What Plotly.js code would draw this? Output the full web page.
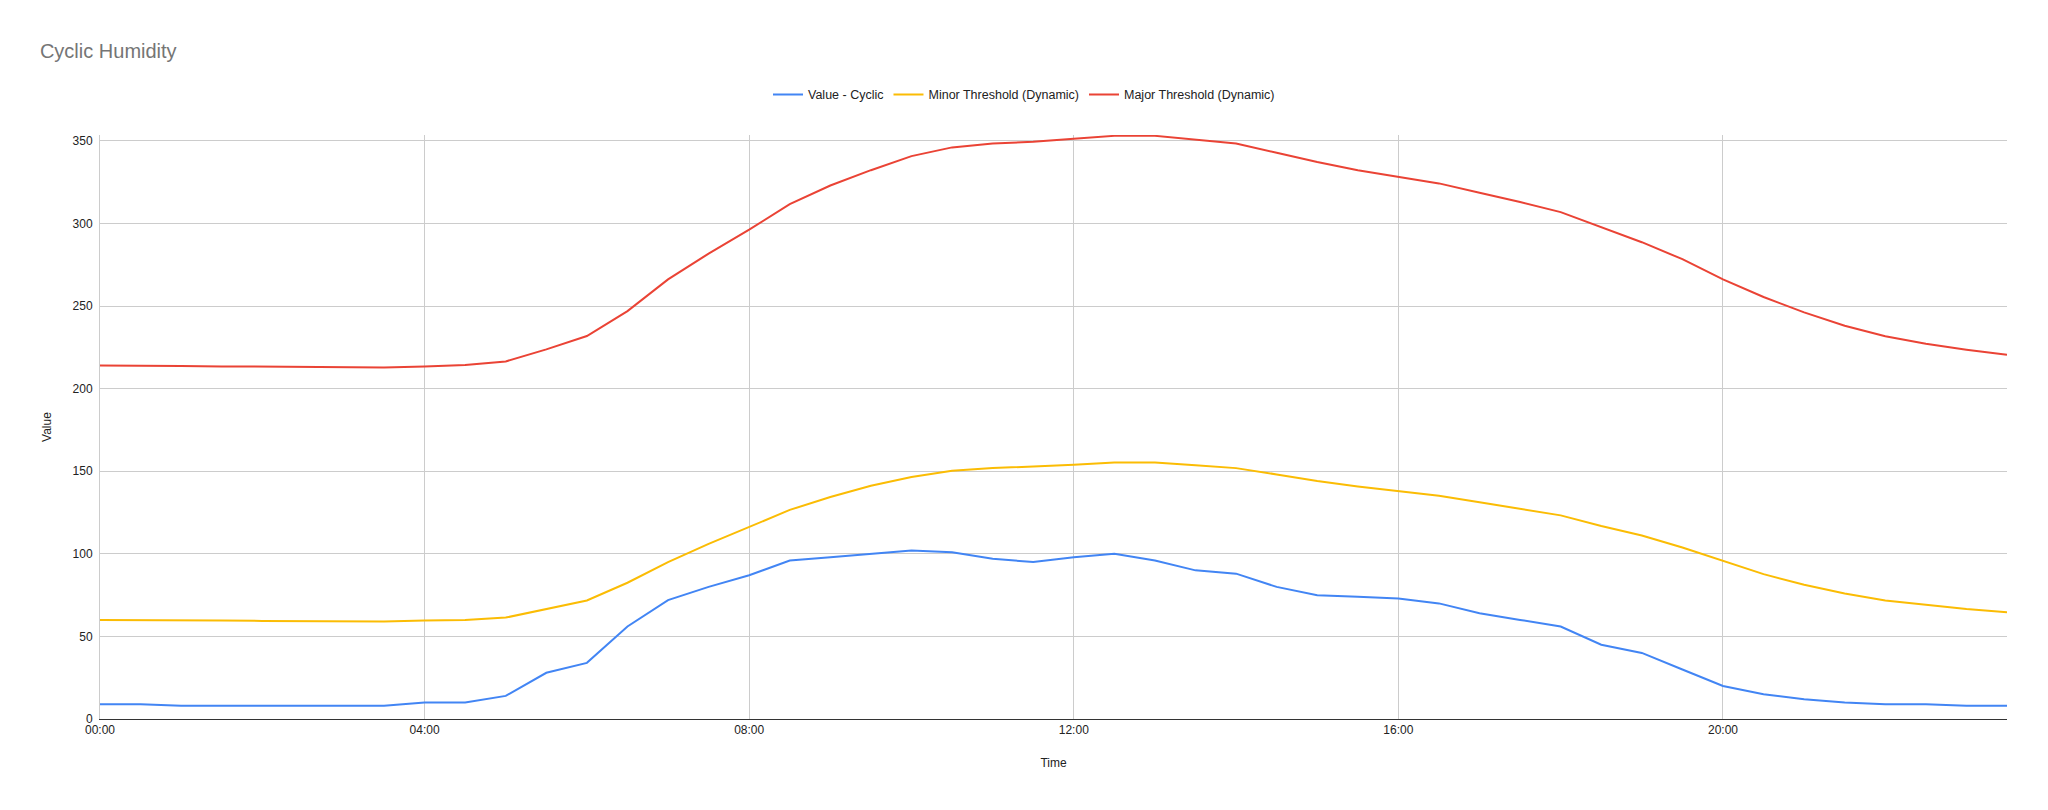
<!DOCTYPE html>
<html>
<head>
<meta charset="utf-8">
<script src="https://cdn.plot.ly/plotly-3.0.1.min.js"></script>
<style>
  html, body { margin: 0; padding: 0; background: #ffffff; }
  #chart { width: 2048px; height: 810px; }
</style>
</head>
<body>
<div id="chart"></div>
<script>
const chartTitle = "Cyclic Humidity";
const xTitle = "Time";
const yTitle = "Value";

const times = [
  "00:00","00:30","01:00","01:30","02:00","02:30","03:00","03:30",
  "04:00","04:30","05:00","05:30","06:00","06:30","07:00","07:30",
  "08:00","08:30","09:00","09:30","10:00","10:30","11:00","11:30",
  "12:00","12:30","13:00","13:30","14:00","14:30","15:00","15:30",
  "16:00","16:30","17:00","17:30","18:00","18:30","19:00","19:30",
  "20:00","20:30","21:00","21:30","22:00","22:30","23:00","23:30"
];

const seriesNames = ["Value - Cyclic", "Minor Threshold (Dynamic)", "Major Threshold (Dynamic)"];

const valueCyclic = [
  9, 9, 8, 8, 8, 8, 8, 8,
  10, 10, 14, 28, 34, 56, 72, 80,
  87, 96, 98, 100, 102, 101, 97, 95,
  98, 100, 96, 90, 88, 80, 75, 74,
  73, 70, 64, 60, 56, 45, 40, 30,
  20, 15, 12, 10, 9, 9, 8, 8
];

const minorThreshold = [
  60, 60, 59.8, 59.6, 59.4, 59.2, 59.2, 59,
  59.6, 60, 61.4, 66.6, 71.8, 82.5, 95, 106,
  116.1, 126.6, 134.4, 141.2, 146.5, 150.3, 151.9, 152.7,
  153.9, 155.3, 155.3, 153.7, 151.9, 148.1, 144.1, 140.8,
  138, 135.2, 131.2, 127.4, 123.3, 116.9, 111.1, 103.8,
  95.6, 87.7, 81.3, 76, 71.8, 69, 66.6, 64.6
];

const majorThreshold = [
  214.1, 214.1, 213.7, 213.5, 213.3, 213.1, 213.0, 212.9,
  213.5, 214.3, 216.5, 223.8, 231.9, 247, 266.2, 281.8,
  296.3, 311.7, 323, 332.3, 340.8, 346.1, 348.5, 349.5,
  351.3, 353.1, 353.1, 350.9, 348.5, 342.8, 337.2, 332.3,
  328.3, 324.3, 318.6, 313, 306.9, 297.6, 288.7, 278.4,
  266.2, 255.5, 246.2, 238.1, 231.7, 227.2, 223.6, 220.5
];

const xTickLabels = ["00:00", "04:00", "08:00", "12:00", "16:00", "20:00"];
const yTickValues = [0, 50, 100, 150, 200, 250, 300, 350];

const seriesColors = ["#4285f4", "#fbbc04", "#ea4335"];

const day = "2024-01-01 ";
const xDates = times.map(t => day + t);

const allSeries = [valueCyclic, minorThreshold, majorThreshold];
const traces = allSeries.map((ys, i) => ({
  type: "scatter",
  mode: "lines",
  name: seriesNames[i],
  x: xDates,
  y: ys,
  line: { color: seriesColors[i], width: 2 },
  hoverinfo: "skip"
}));

const font = "Arial, 'Liberation Sans', sans-serif";

const layout = {
  width: 2048,
  height: 810,
  paper_bgcolor: "#ffffff",
  plot_bgcolor: "#ffffff",
  margin: { l: 100, r: 41, t: 135, b: 91, pad: 0 },
  font: { family: font, size: 12, color: "#222222" },
  title: {
    text: chartTitle,
    font: { family: font, size: 20, color: "#757575" },
    xref: "container", yref: "container",
    x: 0.0195, xanchor: "left",
    y: 0.937, yanchor: "middle"
  },
  showlegend: true,
  legend: {
    orientation: "h",
    xref: "container", yref: "container",
    x: 0.5, xanchor: "center",
    y: 0.883, yanchor: "middle",
    font: { family: font, size: 12.5, color: "#222222" },
    itemwidth: 30,
    traceorder: "normal"
  },
  xaxis: {
    type: "date",
    range: [xDates[0], xDates[xDates.length - 1]],
    tickmode: "array",
    tickvals: xTickLabels.map(t => day + t),
    ticktext: xTickLabels,
    showgrid: true,
    gridcolor: "#cccccc",
    gridwidth: 1,
    showline: true,
    linecolor: "#333333",
    linewidth: 1,
    zeroline: false,
    ticks: "",
    tickfont: { family: font, size: 12, color: "#222222" },
    title: { text: xTitle, font: { family: font, size: 12, color: "#222222" }, standoff: 22 },
    automargin: false,
    fixedrange: true
  },
  yaxis: {
    range: [0, 353.6],
    tickmode: "array",
    tickvals: yTickValues,
    ticktext: yTickValues.map(String),
    showgrid: true,
    gridcolor: "#cccccc",
    gridwidth: 1,
    showline: true,
    linecolor: "#cccccc",
    linewidth: 1,
    zeroline: false,
    ticks: "",
    ticklabelstandoff: 4,
    tickfont: { family: font, size: 12, color: "#222222" },
    title: { text: yTitle, font: { family: font, size: 12, color: "#222222" }, standoff: 18 },
    automargin: false,
    fixedrange: true
  }
};

Plotly.newPlot("chart", traces, layout, { staticPlot: true, displayModeBar: false });
</script>
</body>
</html>
